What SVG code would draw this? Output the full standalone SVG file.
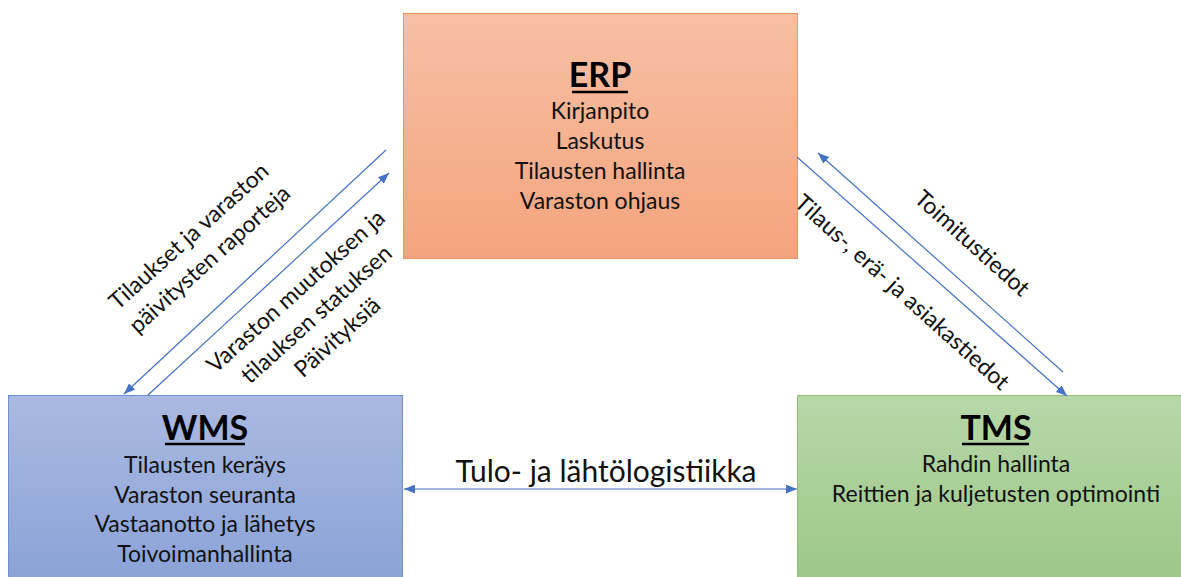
<svg xmlns="http://www.w3.org/2000/svg" width="1181" height="577" viewBox="0 0 1181 577">
  <defs>
    <linearGradient id="gErp" x1="0" y1="0" x2="0" y2="1">
      <stop offset="0" stop-color="#F7BFA4"/>
      <stop offset="1" stop-color="#F4A47D"/>
    </linearGradient>
    <linearGradient id="gWms" x1="0" y1="0" x2="0" y2="1">
      <stop offset="0" stop-color="#AAB9E1"/>
      <stop offset="1" stop-color="#8AA2D7"/>
    </linearGradient>
    <linearGradient id="gTms" x1="0" y1="0" x2="0" y2="1">
      <stop offset="0" stop-color="#B7D7A8"/>
      <stop offset="1" stop-color="#9CC787"/>
    </linearGradient>
    <marker id="arrow" viewBox="0 0 10 8" refX="10" refY="4" markerWidth="11" markerHeight="9" markerUnits="userSpaceOnUse" orient="auto-start-reverse">
      <path d="M0,0 L10,4 L0,8 Z" fill="#4472C4"/>
    </marker>
    <style>
      .box-text { font-family: Lato, "Open Sans", "Liberation Sans", sans-serif; font-size: 23px; fill: #111; text-anchor: middle; }
      .title { font-family: Lato, "Open Sans", "Liberation Sans", sans-serif; font-size: 34px; font-weight: bold; fill: #000; text-anchor: middle; }
      .uline { stroke: #000; stroke-width: 2.5; }
      .lbl { font-family: Lato, "Open Sans", "Liberation Sans", sans-serif; font-size: 23px; fill: #111; text-anchor: middle; }
      .conn { stroke: #4472C4; stroke-width: 1.2; fill: none; }
    </style>
  </defs>

  <rect width="1181" height="577" fill="#FFFFFF"/>

  <!-- ERP -->
  <g id="erp">
    <rect x="403.5" y="13.5" width="394" height="245" fill="url(#gErp)" stroke="#EE9460" stroke-width="1"/>
    <text class="title" x="600" y="87">ERP</text>
    <line class="uline" x1="572" y1="92" x2="628" y2="92"/>
    <text class="box-text" x="600" y="119">Kirjanpito</text>
    <text class="box-text" x="600" y="149">Laskutus</text>
    <text class="box-text" x="600" y="179">Tilausten hallinta</text>
    <text class="box-text" x="600" y="209">Varaston ohjaus</text>
  </g>

  <!-- WMS -->
  <g id="wms">
    <rect x="8.5" y="395.5" width="394" height="190" fill="url(#gWms)" stroke="#6F90D0" stroke-width="1"/>
    <text class="title" x="205" y="440">WMS</text>
    <line class="uline" x1="165" y1="444" x2="245" y2="444"/>
    <text class="box-text" x="205" y="473">Tilausten keräys</text>
    <text class="box-text" x="205" y="503">Varaston seuranta</text>
    <text class="box-text" x="205" y="532">Vastaanotto ja lähetys</text>
    <text class="box-text" x="205" y="562">Toivoimanhallinta</text>
  </g>

  <!-- TMS -->
  <g id="tms">
    <rect x="797.5" y="395.5" width="400" height="190" fill="url(#gTms)" stroke="#8DBF76" stroke-width="1"/>
    <text class="title" x="996" y="440">TMS</text>
    <line class="uline" x1="962" y1="444" x2="1029" y2="444"/>
    <text class="box-text" x="996" y="472">Rahdin hallinta</text>
    <text class="box-text" x="996" y="502">Reittien ja kuljetusten optimointi</text>
  </g>

  <!-- connectors -->
  <g id="connectors">
    <line class="conn" x1="386" y1="150" x2="124" y2="394" marker-end="url(#arrow)"/>
    <line class="conn" x1="148" y1="395" x2="389" y2="173" marker-end="url(#arrow)"/>
    <line class="conn" x1="797" y1="157" x2="1067" y2="396" marker-end="url(#arrow)"/>
    <line class="conn" x1="1063" y1="372" x2="818" y2="153" marker-end="url(#arrow)"/>
    <line class="conn" x1="404" y1="489" x2="797" y2="489" marker-start="url(#arrow)" marker-end="url(#arrow)"/>

    <g transform="translate(194,242) rotate(-42)">
      <text class="lbl" x="0" y="0">Tilaukset ja varaston</text>
      <text class="lbl" x="0" y="31">päivitysten raporteja</text>
    </g>
    <g transform="translate(301,297) rotate(-42)">
      <text class="lbl" x="0" y="0">Varaston muutoksen ja</text>
      <text class="lbl" x="0" y="31">tilauksen statuksen</text>
      <text class="lbl" x="0" y="62">Päivityksiä</text>
    </g>
    <g transform="translate(967,249) rotate(42)">
      <text class="lbl" x="0" y="0">Toimitustiedot</text>
    </g>
    <g transform="translate(897,298) rotate(42)">
      <text class="lbl" x="0" y="0">Tilaus-, erä- ja asiakastiedot</text>
    </g>
    <text class="lbl" x="606" y="482" style="font-size:30px">Tulo- ja lähtölogistiikka</text>
  </g>
</svg>
